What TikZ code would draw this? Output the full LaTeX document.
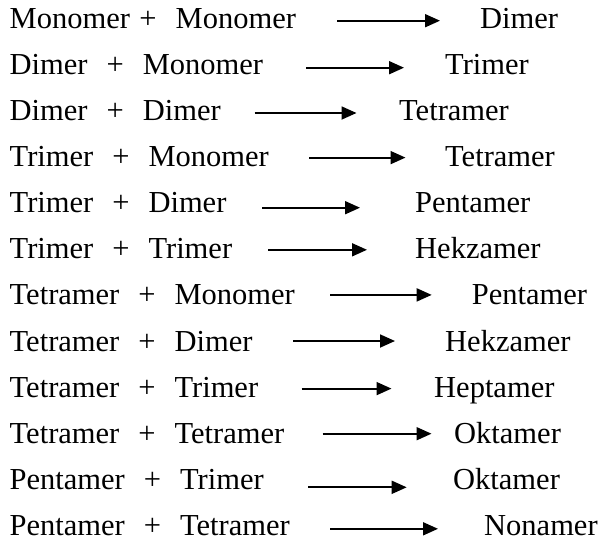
\documentclass[tikz,border=0pt]{standalone}
\usepackage{fontspec}
\setmainfont{Liberation Serif}
\usetikzlibrary{arrows.meta}
\newcommand{\sg}{\hspace{9.5pt}}
\newcommand{\db}{\hspace{19pt}}
\begin{document}
\begin{tikzpicture}[x=1pt,y=-1pt,
  txt/.style={anchor=base west,inner sep=0pt,font=\fontsize{30.5}{36}\selectfont},
  rxn/.style={-{Triangle[length=15pt,width=13pt]},line width=1.8pt}]
\useasboundingbox[fill=white] (0,0) rectangle (602,547);
% row 1
\node[txt] (r1) at (9.5,28.3) {Monomer\sg+\db Monomer};
\node[txt] (p1) at (480,28.3) {Dimer};
\coordinate (s1) at (337,20.7); \coordinate (e1) at (440,20.7);
\draw[rxn] (s1) -- (e1);
% row 2
\node[txt] (r2) at (9.5,74.4) {Dimer\db+\db Monomer};
\node[txt] (p2) at (445,74.4) {Trimer};
\coordinate (s2) at (306,67.7); \coordinate (e2) at (404,67.7);
\draw[rxn] (s2) -- (e2);
% row 3
\node[txt] (r3) at (9.5,120.5) {Dimer\db+\db Dimer};
\node[txt] (p3) at (399,120.5) {Tetramer};
\coordinate (s3) at (254.5,113.0); \coordinate (e3) at (356.5,113.0);
\draw[rxn] (s3) -- (e3);
% row 4
\node[txt] (r4) at (9.5,166.6) {Trimer\db+\db Monomer};
\node[txt] (p4) at (445,166.6) {Tetramer};
\coordinate (s4) at (309,157.6); \coordinate (e4) at (405.5,157.6);
\draw[rxn] (s4) -- (e4);
% row 5
\node[txt] (r5) at (9.5,212.7) {Trimer\db+\db Dimer};
\node[txt] (p5) at (415,212.7) {Pentamer};
\coordinate (s5) at (262,207.7); \coordinate (e5) at (360,207.7);
\draw[rxn] (s5) -- (e5);
% row 6
\node[txt] (r6) at (9.5,258.8) {Trimer\db+\db Trimer};
\node[txt] (p6) at (415,258.8) {Hekzamer};
\coordinate (s6) at (268,249.8); \coordinate (e6) at (367,249.8);
\draw[rxn] (s6) -- (e6);
% row 7
\node[txt] (r7) at (9.5,304.9) {Tetramer\db+\db Monomer};
\node[txt] (p7) at (471.7,304.9) {Pentamer};
\coordinate (s7) at (330,294.9); \coordinate (e7) at (431.7,294.9);
\draw[rxn] (s7) -- (e7);
% row 8
\node[txt] (r8) at (9.5,351.0) {Tetramer\db+\db Dimer};
\node[txt] (p8) at (445,351.0) {Hekzamer};
\coordinate (s8) at (293,341.0); \coordinate (e8) at (395,341.0);
\draw[rxn] (s8) -- (e8);
% row 9
\node[txt] (r9) at (9.5,397.1) {Tetramer\db+\db Trimer};
\node[txt] (p9) at (434,397.1) {Heptamer};
\coordinate (s9) at (301.5,388.6); \coordinate (e9) at (391.5,388.6);
\draw[rxn] (s9) -- (e9);
% row 10
\node[txt] (r10) at (9.5,443.2) {Tetramer\db+\db Tetramer};
\node[txt] (p10) at (454,443.2) {Oktamer};
\coordinate (s10) at (322.5,433.7); \coordinate (e10) at (431.5,433.7);
\draw[rxn] (s10) -- (e10);
% row 11
\node[txt] (r11) at (9.5,489.3) {Pentamer\db+\db Trimer};
\node[txt] (p11) at (453,489.3) {Oktamer};
\coordinate (s11) at (308,487.3); \coordinate (e11) at (406.7,487.3);
\draw[rxn] (s11) -- (e11);
% row 12
\node[txt] (r12) at (9.5,535.4) {Pentamer\db+\db Tetramer};
\node[txt] (p12) at (484,535.4) {Nonamer};
\coordinate (s12) at (330,528.8); \coordinate (e12) at (438,528.8);
\draw[rxn] (s12) -- (e12);
\end{tikzpicture}
\end{document}
